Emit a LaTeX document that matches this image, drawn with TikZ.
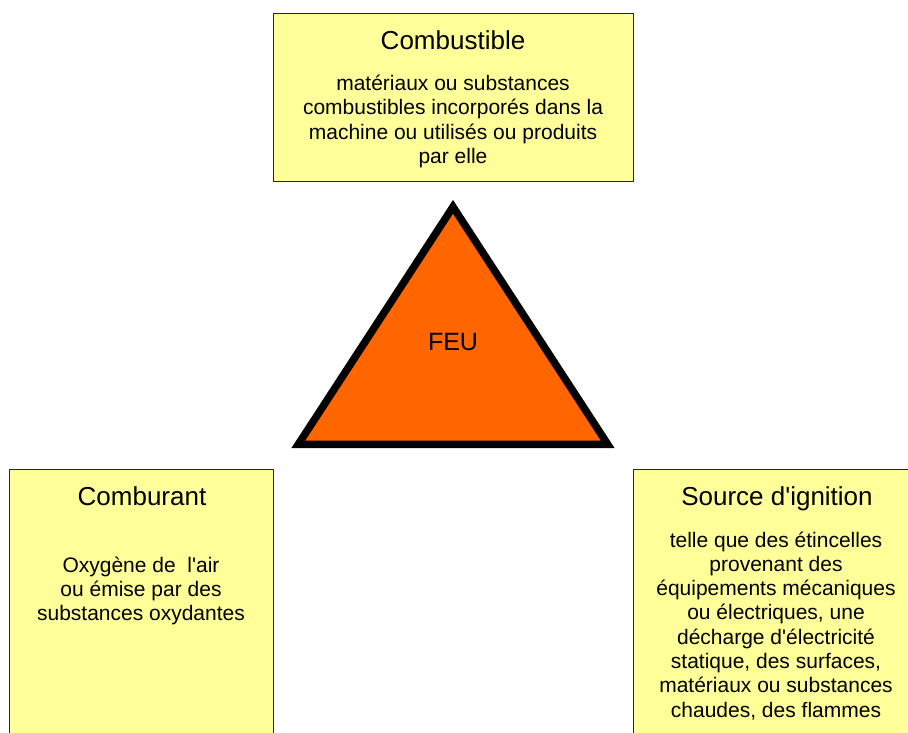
\documentclass[tikz,border=0pt]{standalone}
\usepackage{fontspec}
\setmainfont{Liberation Sans}
\definecolor{boxyellow}{HTML}{FFFF99}
\definecolor{fireorange}{HTML}{FF6600}
\newcommand{\sq}{\textquotesingle}
\begin{document}
\begin{tikzpicture}[x=1pt,y=-1pt,
  box/.style={draw=black!85, line width=1.3pt, fill=boxyellow, inner sep=0pt, anchor=north west},
  titletext/.style={font=\fontsize{26}{30}\selectfont, anchor=base, inner sep=0pt},
  bodytext/.style={font=\fontsize{21}{24.3}\selectfont, anchor=base, inner sep=0pt},
  fire/.style={draw=black, line width=7.5pt, line join=miter, fill=fireorange}]
\useasboundingbox (0,0) rectangle (908,732);
\clip (0,0) rectangle (908,732);
\fill[white] (0,0) rectangle (908,732);
% boxes
\node[box, minimum width=360pt, minimum height=168pt] (combbox) at (273,13) {};
\node[box, minimum width=264pt, minimum height=300pt] (oxbox) at (9,469) {};
\node[box, minimum width=290pt, minimum height=300pt] (ignbox) at (633,469) {};
% triangle
\draw[fire] (453,206.8) -- (607.7,444.3) -- (298.3,444.3) -- cycle;
\node[font=\fontsize{25}{30}\selectfont, anchor=base, inner sep=0pt] (feu) at (453,350) {FEU};
% texts
\node[titletext] (combtitle) at (453,49) {Combustible};
\node[bodytext] (combtext) at (453,90.5) {\begin{tabular}[t]{@{}c@{}}matériaux ou substances\\combustibles incorporés dans la\\machine ou utilisés ou produits\\par elle\end{tabular}};
\node[titletext] (oxtitle) at (142,505) {Comburant};
\node[bodytext] (oxtext) at (141,572) {\begin{tabular}[t]{@{}c@{}}Oxygène de\ \ l\sq air\\ou émise par des\\substances oxydantes\end{tabular}};
\node[titletext] (igntitle) at (777,505) {Source d\sq ignition};
\node[bodytext] (igntext) at (776,547) {\begin{tabular}[t]{@{}c@{}}telle que des étincelles\\provenant des\\équipements mécaniques\\ou électriques, une\\décharge d\sq électricité\\statique, des surfaces,\\matériaux ou substances\\chaudes, des flammes\end{tabular}};
\end{tikzpicture}
\end{document}
